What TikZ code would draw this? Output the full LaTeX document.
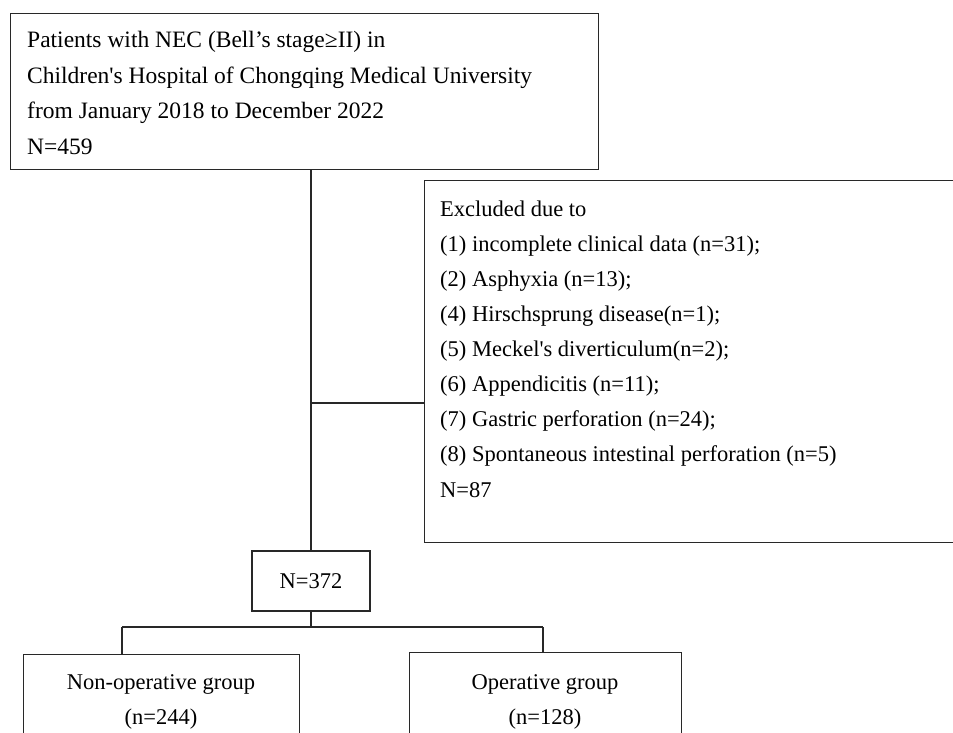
\documentclass[tikz,border=0pt]{standalone}
\usepackage{fontspec}
\setmainfont{Liberation Serif}[Ligatures=TeXOff]
\definecolor{linec}{RGB}{40,40,40}
\begin{document}
\begin{tikzpicture}[x=1pt,y=-1pt,
  box/.style={draw=linec, line width=1.3pt, rectangle, inner sep=0pt, anchor=north west},
  nbox/.style={draw=linec, line width=1.3pt, rectangle, inner sep=0pt, font=\fontsize{22.5}{27}\selectfont},
  txt/.style={font=\fontsize{22.5}{27}\selectfont, inner sep=0pt, anchor=base west},
  ttxt/.style={font=\fontsize{23.5}{28}\selectfont, inner sep=0pt, anchor=base west},
  ctxt/.style={font=\fontsize{22.5}{27}\selectfont, inner sep=0pt, anchor=base},
  conn/.style={draw=linec, line width=1.3pt}]
\useasboundingbox (0,0) rectangle (953,732);
\clip (0,0) rectangle (953,732);
% top box
\node[box, minimum width=588pt, minimum height=156pt] (top) at (10,13) {};
\node[ttxt] (t1) at (27,47) {Patients with NEC (Bell’s stage≥II) in};
\node[ttxt] (t2) at (27,83) {Children's Hospital of Chongqing Medical University};
\node[ttxt] (t3) at (27,118) {from January 2018 to December 2022};
\node[ttxt] (t4) at (27,154) {N=459};
% excluded box
\node[box, minimum width=560pt, minimum height=362pt] (excl) at (424,180) {};
\node[txt] (e0) at (440,216) {Excluded due to};
\node[txt] (e1) at (440,251) {(1) incomplete clinical data (n=31);};
\node[txt] (e2) at (440,286) {(2) Asphyxia (n=13);};
\node[txt] (e3) at (440,321) {(4) Hirschsprung disease(n=1);};
\node[txt] (e4) at (440,356) {(5) Meckel's diverticulum(n=2);};
\node[txt] (e5) at (440,391) {(6) Appendicitis (n=11);};
\node[txt] (e6) at (440,426) {(7) Gastric perforation (n=24);};
\node[txt] (e7) at (440,461) {(8) Spontaneous intestinal perforation (n=5)};
\node[txt] (e8) at (440,497) {N=87};
% N=372
\node[nbox, minimum width=118pt, minimum height=60pt] (n372) at (311,581) {N=372};
% bottom boxes
\node[box, minimum width=276pt, minimum height=120pt] (nonop) at (23,654) {};
\node[ctxt] (nonop1) at (161,689) {Non-operative group};
\node[ctxt] (nonop2) at (161,724) {(n=244)};
\node[box, minimum width=272pt, minimum height=120pt] (op) at (409,652) {};
\node[ctxt] (op1) at (545,689) {Operative group};
\node[ctxt] (op2) at (545,724) {(n=128)};
% connectors
\draw[conn] (top.south -| n372.north) -- (n372.north);
\coordinate (b1) at (311,403);
\draw[conn] (b1) -- (b1 -| excl.west);
\coordinate (b2) at (311,627);
\coordinate (bl) at (122,627);
\coordinate (br) at (543,627);
\draw[conn] (n372.south) -- (b2);
\draw[conn] (bl) -- (br);
\draw[conn] (bl) -- (bl |- nonop.north);
\draw[conn] (br) -- (br |- op.north);
\end{tikzpicture}
\end{document}
